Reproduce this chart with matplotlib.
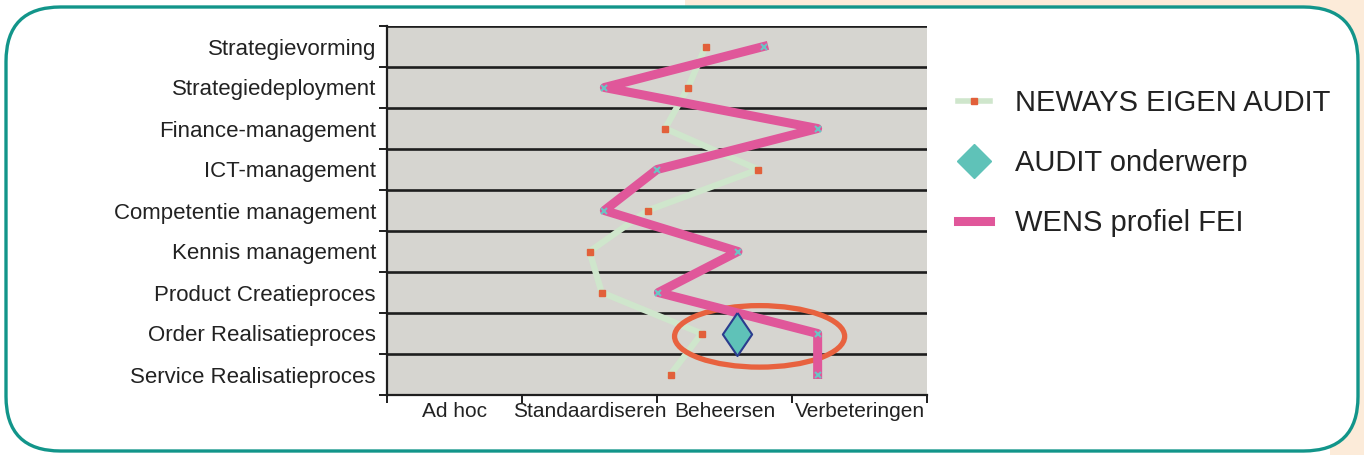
import matplotlib.pyplot as plt
from matplotlib.lines import Line2D
from matplotlib.patches import Ellipse, FancyBboxPatch, Rectangle

plt.rcParams['font.family'] = ['Liberation Sans', 'DejaVu Sans']

processes = ['Strategievorming', 'Strategiedeployment', 'Finance-management',
             'ICT-management', 'Competentie management', 'Kennis management',
             'Product Creatieproces', 'Order Realisatieproces',
             'Service Realisatieproces']
levels = ['Ad hoc', 'Standaardiseren', 'Beheersen', 'Verbeteringen']

# score per process, 0 = start of "Ad hoc", 4 = end of "Verbeteringen"
neways_eigen = [2.36, 2.23, 2.06, 2.75, 1.93, 1.50, 1.59, 2.33, 2.10]
wens_fei = [2.79, 1.61, 3.19, 2.00, 1.61, 2.60, 2.01, 3.19, 3.19]
audit_proces = 'Order Realisatieproces'
audit_score = 2.59

fig = plt.figure(figsize=(13.64, 4.55), dpi=100)

# peach page colour behind the rounded frame
fig.patches.append(Rectangle((0.502, 0.96), 0.5, 0.05, transform=fig.transFigure,
                             facecolor='#fcebd9', edgecolor='none', zorder=-3))
fig.patches.append(Rectangle((0.975, 0), 0.03, 1, transform=fig.transFigure,
                             facecolor='#fcebd9', edgecolor='none', zorder=-3))
frame = FancyBboxPatch((6 / 1364, 4 / 455), 1352 / 1364, 444 / 455,
                       boxstyle='round,pad=0,rounding_size=0.04',
                       transform=fig.transFigure, facecolor='white',
                       edgecolor='#12958a', linewidth=2.4, zorder=-2,
                       mutation_aspect=1364 / 455)
fig.patches.append(frame)

ax = fig.add_axes([387 / 1364, 60 / 455, 540 / 1364, 369 / 455])
ax.set_facecolor('#d6d5d0')

y = list(range(len(processes)))
ax.set_xlim(0, 4)
ax.set_ylim(len(processes) - 0.5, -0.5)

# horizontal bands
for b in range(len(processes)):
    ax.axhline(b - 0.5, color='#1e1e1e', lw=1.9, zorder=1)

ax.plot(neways_eigen, y, color='#cfe6cc', lw=4.5, solid_joinstyle='round', zorder=2)
ax.plot(neways_eigen, y, ls='none', marker='s', ms=4, color='#e2603a', zorder=3)

ya = processes.index(audit_proces)
ax.add_patch(Ellipse((audit_score + 0.17, ya + 0.07), 1.26, 1.5, fill=False,
                     edgecolor='#e8623f', lw=3.8, zorder=4))

ax.plot(wens_fei, y, color='#e0579a', lw=6.5, solid_joinstyle='round', zorder=5)
ax.plot(wens_fei, y, ls='none', marker='x', ms=5, mew=1.5, color='#6cc4c4', zorder=6)

diamond = [(0, 1), (0.68, 0), (0, -1), (-0.68, 0), (0, 1)]
ax.plot([audit_score], [ya], ls='none', marker=diamond, ms=31,
        markerfacecolor='#5fc2b8', markeredgecolor='#2b3c8e', mew=1.5, zorder=7)

for s in ['top', 'right']:
    ax.spines[s].set_visible(False)
for s in ['left', 'bottom']:
    ax.spines[s].set_linewidth(1.6)
    ax.spines[s].set_color('#1e1e1e')

ax.set_yticks([b - 0.5 for b in range(len(processes) + 1)])
ax.set_yticklabels([])
ax.set_yticks(y, minor=True)
ax.set_yticklabels(processes, minor=True, fontsize=16, color='#222222')
ax.set_xticks(range(len(levels) + 1))
ax.set_xticklabels([])
ax.set_xticks([i + 0.5 for i in range(len(levels))], minor=True)
ax.set_xticklabels(levels, minor=True, fontsize=15, color='#222222')
ax.tick_params(which='major', length=6, width=1.4, color='#1e1e1e')
ax.tick_params(axis='y', which='minor', length=0, pad=8)
ax.tick_params(axis='x', which='minor', length=0, pad=5)

handles = [
    Line2D([], [], color='#cfe6cc', lw=4, marker='s', ms=4,
           markerfacecolor='#e2603a', markeredgecolor='#e2603a'),
    Line2D([], [], ls='none', marker='D', ms=17, markerfacecolor='#5fc2b8',
           markeredgecolor='#5fc2b8'),
    Line2D([], [], color='#e0579a', lw=6.5),
]
fig.legend(handles, ['NEWAYS EIGEN AUDIT', 'AUDIT onderwerp', 'WENS profiel FEI'],
           loc='upper left', bbox_to_anchor=(932 / 1364, 392 / 455),
           frameon=False, fontsize=21, handlelength=1.1, handletextpad=0.85,
           labelspacing=1.1, labelcolor='#222222')

fig.savefig('out.png', dpi=100)
